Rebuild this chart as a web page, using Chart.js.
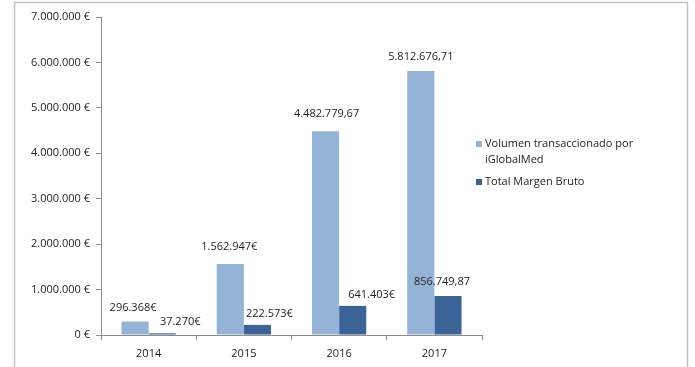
<!DOCTYPE html>
<html>
<head>
<meta charset="utf-8">
<script src="https://cdn.jsdelivr.net/npm/chart.js@4.4.1/dist/chart.umd.min.js"></script>
<style>
  html, body { margin: 0; padding: 0; background: #ffffff; }
  #wrap { position: relative; width: 695px; height: 367px; }
  canvas { display: block; }
</style>
</head>
<body>
<div id="wrap"><canvas id="chart" width="695" height="367"></canvas></div>
<script>
// Years on the category axis
const years = ['2014', '2015', '2016', '2017'];

// Series names (legend)
const volumeName = 'Volumen transaccionado por iGlobalMed';
const marginName = 'Total Margen Bruto';

// Series values in euros
const volumeValues = [296368, 1562947, 4482779.67, 5812676.71];
const marginValues = [37270, 222573, 641403, 856749.87];

// Value labels as printed above the bars
const volumeLabels = ['296.368€', '1.562.947€', '4.482.779,67', '5.812.676,71'];
const marginLabels = ['37.270€', '222.573€', '641.403€', '856.749,87'];

// Y axis range
const yMax = 7000000;
const yStep = 1000000;

// Label nudges (px) relative to each bar's top centre
const volumeLabelShift = [[-2, -14], [-1, -17], [1, -17], [0, -14]];
const marginLabelShift = [[18, -11], [12, -11], [19, -11], [-6, -14]];

const FONT = '"Open Sans", "Liberation Sans", sans-serif';
const TEXT = '#1e1e1e';
const LIGHT = '#95b3d7';
const DARK = '#3b6396';

function euro(v) {
  return String(Math.round(v)).replace(/\B(?=(\d{3})+(?!\d))/g, '.') + ' €';
}

// Frame around the whole chart
const framePlugin = {
  id: 'frame',
  beforeDraw(chart) {
    const ctx = chart.ctx;
    ctx.save();
    ctx.strokeStyle = '#c2c2c2';
    ctx.lineWidth = 1.5;
    ctx.strokeRect(14.5, 2.5, 673, 380);
    ctx.restore();
  }
};

// Value labels drawn above each bar
const valueLabelPlugin = {
  id: 'valueLabels',
  afterDatasetsDraw(chart) {
    const ctx = chart.ctx;
    const sets = [[volumeLabels, volumeLabelShift], [marginLabels, marginLabelShift]];
    ctx.save();
    ctx.font = '11px ' + FONT;
    ctx.fillStyle = TEXT;
    ctx.textAlign = 'center';
    ctx.textBaseline = 'middle';
    sets.forEach(([labels, shift], di) => {
      chart.getDatasetMeta(di).data.forEach((bar, i) => {
        ctx.fillText(labels[i], bar.x + shift[i][0], bar.y + shift[i][1]);
      });
    });
    ctx.restore();
  }
};

// Legend on the right, with the long name wrapped onto two lines
const sideLegendPlugin = {
  id: 'sideLegend',
  afterDraw(chart) {
    const ctx = chart.ctx;
    const x = chart.chartArea.right - 6;
    const items = [
      { color: LIGHT, lines: ['Volumen transaccionado por', 'iGlobalMed'], y: 144 },
      { color: DARK, lines: [marginName], y: 182 }
    ];
    ctx.save();
    ctx.font = '11px ' + FONT;
    ctx.textBaseline = 'middle';
    items.forEach(it => {
      ctx.fillStyle = it.color;
      ctx.fillRect(x, it.y - 3, 6, 6);
      ctx.fillStyle = TEXT;
      it.lines.forEach((ln, k) => ctx.fillText(ln, x + 9, it.y + k * 16));
    });
    ctx.restore();
  }
};

new Chart(document.getElementById('chart'), {
  type: 'bar',
  data: {
    labels: years,
    datasets: [
      { label: volumeName, data: volumeValues, backgroundColor: LIGHT,
        categoryPercentage: 0.57, barPercentage: 1.0 },
      { label: marginName, data: marginValues, backgroundColor: DARK,
        categoryPercentage: 0.57, barPercentage: 1.0 }
    ]
  },
  options: {
    responsive: false,
    animation: false,
    devicePixelRatio: 1,
    layout: { padding: { left: 0, right: 213, top: 17, bottom: 0 } },
    plugins: {
      legend: { display: false },
      tooltip: { enabled: false }
    },
    scales: {
      x: {
        afterFit(scale) { scale.height = 32; },
        border: { color: '#8c8c8c', width: 1 },
        grid: { drawOnChartArea: false, drawTicks: true, tickLength: 5, color: '#8c8c8c' },
        ticks: { color: TEXT, font: { family: FONT, size: 11 }, padding: 7 }
      },
      y: {
        min: 0,
        max: yMax,
        afterFit(scale) { scale.width = 101; },
        border: { color: '#8c8c8c', width: 1 },
        grid: { drawOnChartArea: false, drawTicks: true, tickLength: 5, color: '#8c8c8c' },
        ticks: {
          stepSize: yStep,
          color: TEXT,
          font: { family: FONT, size: 11 },
          padding: 6,
          callback: v => euro(v)
        }
      }
    }
  },
  plugins: [framePlugin, valueLabelPlugin, sideLegendPlugin]
});
</script>
</body>
</html>
